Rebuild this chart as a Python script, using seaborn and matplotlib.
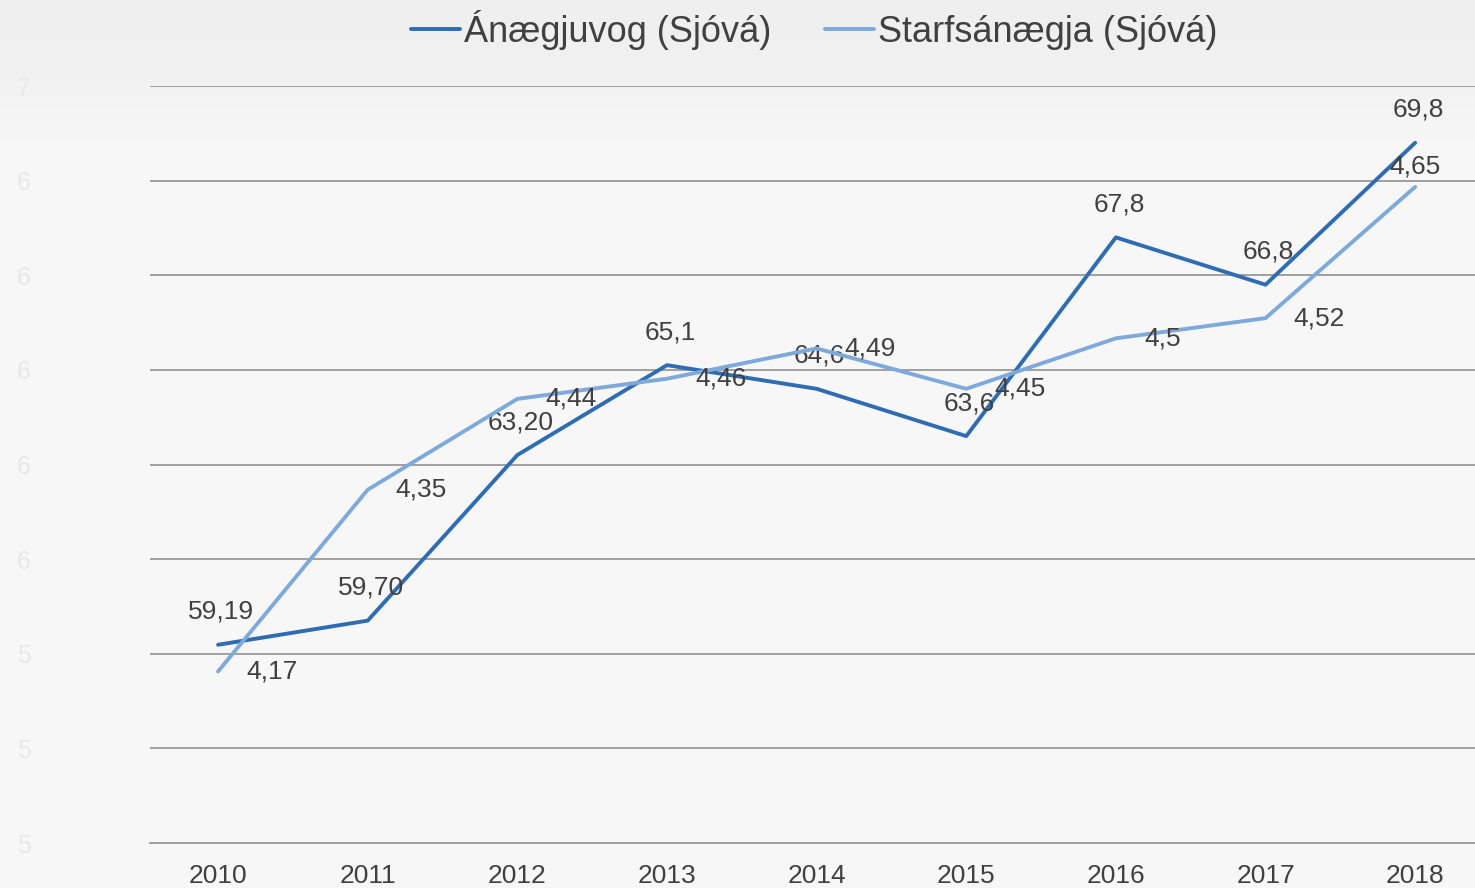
import numpy as np
import matplotlib
matplotlib.use("Agg")
import matplotlib.pyplot as plt
import seaborn as sns

# Gögn
years = ["2010", "2011", "2012", "2013", "2014", "2015", "2016", "2017", "2018"]
anaegjuvog = [59.19, 59.70, 63.20, 65.1, 64.6, 63.6, 67.8, 66.8, 69.8]
anaegjuvog_labels = ["59,19", "59,70", "63,20", "65,1", "64,6", "63,6", "67,8", "66,8", "69,8"]
starfsanaegja = [4.17, 4.35, 4.44, 4.46, 4.49, 4.45, 4.5, 4.52, 4.65]
starfsanaegja_labels = ["4,17", "4,35", "4,44", "4,46", "4,49", "4,45", "4,5", "4,52", "4,65"]
y_ticks = [55, 57, 59, 61, 63, 65, 67, 69, 71]
y_tick_labels = ["5", "5", "5", "6", "6", "6", "6", "6", "7"]

dark_blue = "#2f6db3"
light_blue = "#7eaadb"
text_col = "#404040"

sns.set_style("white")
plt.rcParams["font.family"] = ["Liberation Sans", "DejaVu Sans"]

fig = plt.figure(figsize=(14.75, 8.88), dpi=100, facecolor="#f7f7f7")

# smá litabreyting efst í bakgrunni
bg = fig.add_axes([0, 0, 1, 1], zorder=-10)
grad = np.linspace(0, 1, 200)[:, None] * np.ones((1, 2))
cmap = matplotlib.colors.LinearSegmentedColormap.from_list(
    "g", [(0, "#efefef"), (0.08, "#f1f1f1"), (0.16, "#f7f7f7"), (1, "#f7f7f7")])
bg.imshow(grad, cmap=cmap, extent=[0, 1, 0, 1], aspect="auto", origin="upper")
bg.axis("off")

ax = fig.add_axes([150 / 1475, 1 - 843 / 888, 1 - 150 / 1475, (843 - 86) / 888])
ax.set_facecolor("none")
x = np.arange(len(years))

sns.lineplot(x=x, y=anaegjuvog, ax=ax, color=dark_blue, lw=2.8, label="Ánægjuvog (Sjóvá)", legend=False)
ax.set_ylim(55, 71)
ax.set_xlim(-0.455, 8.40)
ax.set_yticks(y_ticks)
ax.set_yticklabels(y_tick_labels, color="#e8e8e8", fontsize=18)
ax.tick_params(axis="y", length=0, pad=86)
ax.grid(axis="y", color="#a0a0a0", lw=1.4)
ax.set_axisbelow(True)
ax.set_xticks(x)
ax.set_xticklabels(years, fontsize=19, color=text_col)
ax.set_xticks(x[:-1] + 0.5, minor=True)
ax.tick_params(axis="x", which="major", length=0, pad=15)
ax.tick_params(axis="x", which="minor", length=8, color="#a0a0a0", width=1.2)
for s in ["top", "right", "left"]:
    ax.spines[s].set_visible(False)
ax.spines["bottom"].set_color("#a0a0a0")
ax.spines["bottom"].set_linewidth(1.4)

ax2 = ax.twinx()
sns.lineplot(x=x, y=starfsanaegja, ax=ax2, color=light_blue, lw=2.8, label="Starfsánægja (Sjóvá)", legend=False)
ax2.set_ylim(4.0, 4.75)
ax2.set_yticks([])
ax2.set_ylabel("")
for s in ax2.spines.values():
    s.set_visible(False)

for i, lab in enumerate(anaegjuvog_labels):
    ax.annotate(lab, (x[i], anaegjuvog[i]), xytext=(3, 33), textcoords="offset pixels",
                ha="center", va="center", fontsize=19, color=text_col)
for i, lab in enumerate(starfsanaegja_labels):
    if i == len(starfsanaegja_labels) - 1:
        ax2.annotate(lab, (x[i], starfsanaegja[i]), xytext=(0, 20), textcoords="offset pixels",
                     ha="center", va="center", fontsize=19, color=text_col)
    else:
        ax2.annotate(lab, (x[i], starfsanaegja[i]), xytext=(28, 0), textcoords="offset pixels",
                     ha="left", va="center", fontsize=19, color=text_col)

h1, l1 = ax.get_legend_handles_labels()
h2, l2 = ax2.get_legend_handles_labels()
fig.legend(h1 + h2, l1 + l2, loc="center", bbox_to_anchor=(0.552, 1 - 30 / 888), ncol=2, frameon=False,
           prop={"size": 26}, labelcolor=text_col, handlelength=1.35, handletextpad=0.1, columnspacing=1.5)

fig.savefig("out.png", dpi=100, facecolor=fig.get_facecolor())
